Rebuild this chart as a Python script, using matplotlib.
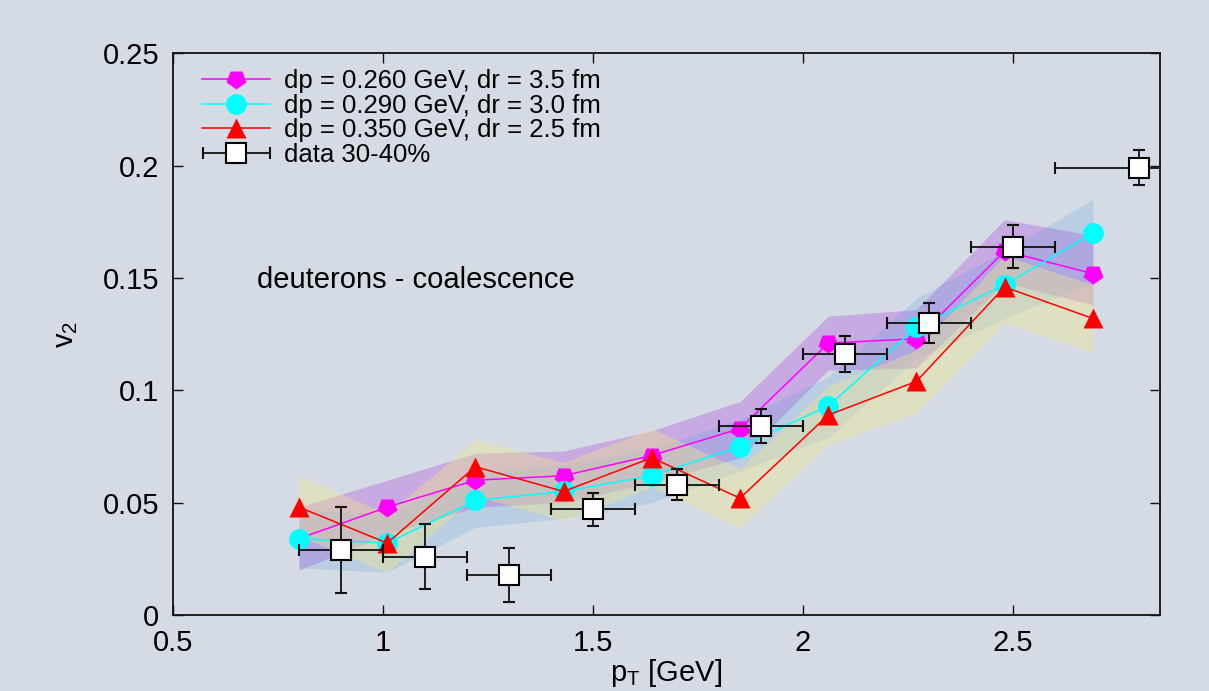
import numpy as np
import matplotlib
matplotlib.use("Agg")
import matplotlib.pyplot as plt
from matplotlib.markers import MarkerStyle
from matplotlib.transforms import Affine2D
from matplotlib.ticker import FormatStrFormatter, MultipleLocator
from matplotlib.container import ErrorbarContainer
from matplotlib.legend_handler import HandlerErrorbar

plt.rcParams['font.family'] = ['Liberation Sans', 'DejaVu Sans']

# coalescence model, three parameter sets
x_model = [0.80, 1.01, 1.22, 1.43, 1.64, 1.85, 2.06, 2.27, 2.48, 2.69]

v2_260 = [0.034, 0.048, 0.060, 0.062, 0.071, 0.083, 0.121, 0.123, 0.162, 0.152]
lo_260 = [0.020, 0.036, 0.048, 0.050, 0.059, 0.070, 0.109, 0.110, 0.148, 0.138]
hi_260 = [0.048, 0.060, 0.072, 0.073, 0.082, 0.095, 0.133, 0.136, 0.176, 0.169]

v2_290 = [0.034, 0.032, 0.051, 0.055, 0.062, 0.075, 0.093, 0.128, 0.147, 0.170]
lo_290 = [0.021, 0.019, 0.039, 0.043, 0.050, 0.064, 0.079, 0.114, 0.132, 0.148]
hi_290 = [0.047, 0.045, 0.063, 0.067, 0.074, 0.087, 0.106, 0.141, 0.162, 0.185]

v2_350 = [0.048, 0.032, 0.066, 0.055, 0.070, 0.052, 0.089, 0.104, 0.146, 0.132]
lo_350 = [0.035, 0.019, 0.053, 0.042, 0.057, 0.039, 0.076, 0.090, 0.130, 0.117]
hi_350 = [0.062, 0.045, 0.078, 0.068, 0.083, 0.065, 0.102, 0.118, 0.160, 0.147]

# measured deuteron v2, 30-40%
x_data = [0.9, 1.1, 1.3, 1.5, 1.7, 1.9, 2.1, 2.3, 2.5, 2.8]
x_err = [0.1, 0.1, 0.1, 0.1, 0.1, 0.1, 0.1, 0.1, 0.1, 0.2]
v2_data = [0.029, 0.026, 0.018, 0.047, 0.058, 0.084, 0.116, 0.130, 0.164, 0.199]
v2_err = [0.019, 0.0145, 0.012, 0.0074, 0.007, 0.0076, 0.008, 0.009, 0.0097, 0.0078]

labels = ['dp = 0.260 GeV, dr = 3.5 fm',
          'dp = 0.290 GeV, dr = 3.0 fm',
          'dp = 0.350 GeV, dr = 2.5 fm',
          'data 30-40%']

bg = '#d5dbe5'
fig = plt.figure(figsize=(12.09, 6.91), dpi=100, facecolor=bg)
ax = fig.add_axes([0.1431, 0.110, 0.8164, 0.8127], facecolor=bg)

ax.fill_between(x_model, lo_260, hi_260, color='darkviolet', alpha=0.22, lw=0, zorder=1)
ax.fill_between(x_model, lo_290, hi_290, color='#5aa0e0', alpha=0.22, lw=0, zorder=1)
ax.fill_between(x_model, lo_350, hi_350, color='khaki', alpha=0.4, lw=0, zorder=1)

pent_down = MarkerStyle('p', transform=Affine2D().rotate_deg(180))
ax.plot(x_model, v2_260, color='magenta', lw=1.1, marker=pent_down, ms=15,
        mec='none', label=labels[0], zorder=2)
ax.plot(x_model, v2_290, color='cyan', lw=1.1, marker='o', ms=15,
        mec='none', label=labels[1], zorder=3)
ax.plot(x_model, v2_350, color='red', lw=1.1, marker='^', ms=15,
        mec='none', label=labels[2], zorder=4)

ax.errorbar(x_data, v2_data, xerr=x_err, yerr=v2_err, fmt='s', ms=14,
            mfc='white', mec='black', mew=1.5, ecolor='#111111', elinewidth=1.3,
            capsize=4, capthick=1.3, zorder=5)
# legend proxy: only horizontal bar, like the original key
ax.errorbar([np.nan], [np.nan], xerr=[0.1], fmt='s', ms=14, mfc='white',
            mec='black', mew=1.5, ecolor='#111111', elinewidth=1.3,
            capsize=4, capthick=1.3, label=labels[3])

ax.text(0.70, 0.149, 'deuterons - coalescence', fontsize=21, va='center')

ax.set_xlim(0.5, 2.85)
ax.set_ylim(0, 0.25)
ax.xaxis.set_major_locator(MultipleLocator(0.5))
ax.yaxis.set_major_locator(MultipleLocator(0.05))
ax.xaxis.set_major_formatter(FormatStrFormatter('%g'))
ax.yaxis.set_major_formatter(FormatStrFormatter('%g'))
ax.tick_params(direction='in', length=7, width=1.0, top=True, right=True,
               labelsize=21, color='#111111')
ax.tick_params(axis='x', pad=10)
ax.tick_params(axis='y', pad=10)
for s in ax.spines.values():
    s.set_linewidth(1.3)
    s.set_color('#111111')

ax.set_xlabel(r'p$_\mathregular{T}$ [GeV]', fontsize=21, labelpad=0)
ax.set_ylabel(r'v$_\mathregular{2}$', fontsize=21, labelpad=16)

ax.legend(loc='upper left', frameon=False, fontsize=18.5, handlelength=2.65,
          handletextpad=0.55, labelspacing=0.03, borderaxespad=0.2,
          bbox_to_anchor=(0.014, 1.0), numpoints=1,
          handler_map={ErrorbarContainer: HandlerErrorbar(xerr_size=1.3)})

fig.savefig('out.png', dpi=100, facecolor=bg)
